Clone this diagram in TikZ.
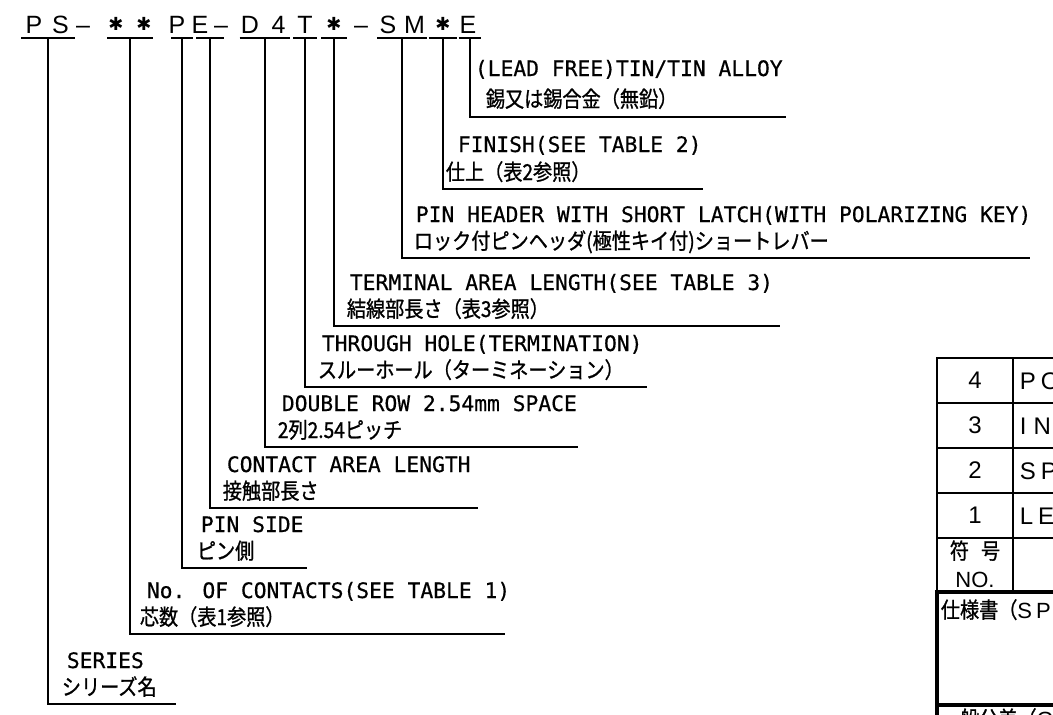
\documentclass[tikz,border=0pt]{standalone}
\usepackage{fontspec}
\newfontfamily\hdrfont{Liberation Sans}
\newfontfamily\lblfont[FakeBold=0.5]{DejaVu Sans Mono}
\newfontfamily\jpfont[FakeStretch=0.87, FakeBold=1]{Noto Sans CJK JP}
\newfontfamily\starfont{DejaVu Sans}

\begin{document}
\begin{tikzpicture}[x=1pt, y=-1pt, line width=1.8pt,
  code/.style = {font=\fontsize{25}{25}\selectfont\hdrfont, anchor=base, inner sep=0pt},
  star/.style = {code, font=\fontsize{18}{18}\selectfont\starfont},
  eng/.style = {font=\fontsize{21.3}{25}\selectfont\lblfont, anchor=base west, inner sep=0pt},
  jap/.style = {font=\fontsize{22}{25}\selectfont\jpfont, anchor=base west, inner sep=0pt},
  cell/.style = {font=\fontsize{24}{24}\selectfont\hdrfont, inner sep=0pt},
  tbl/.style = {line width=1.8pt},
  tblbold/.style = {line width=3.2pt}]
  \useasboundingbox (0,0) rectangle (1053,715);
  \clip (0,0) rectangle (1053,715);

  % part number
  \node[code, minimum width=52pt] (ps) at (48,33) {\makebox[0pt]{P\hspace{3pt}}\hspace{25pt}\makebox[0pt]{S}};
  \node[code] (dash1) at (83,33) {–};
  \node[star, minimum width=44pt] (nc) at (130,33) {\raisebox{3pt}{\makebox[0pt]{✱}\hspace{28pt}\makebox[0pt]{✱}}};
  \node[code, minimum width=20pt] (pin) at (182,33) {\makebox[0pt]{P\hspace{10pt}}};
  \node[code, minimum width=26pt] (cal) at (210,33) {\makebox[0pt]{E\hspace{20pt}}};
  \node[code] (dash2) at (221,33) {–};
  \node[code, minimum width=49pt] (dr) at (265,33) {\makebox[0pt]{D\hspace{3pt}}\hspace{27pt}\makebox[0pt]{4}};
  \node[code, minimum width=22pt] (th) at (305,33) {T};
  \node[star, minimum width=24pt] (tal) at (334,33) {\raisebox{3pt}{✱}};
  \node[code] (dash3) at (361,33) {–};
  \node[code, minimum width=48pt] (lat) at (402,33) {\makebox[0pt]{S\hspace{3pt}}\hspace{25pt}\makebox[0pt]{M}};
  \node[star, minimum width=27pt] (fin) at (443,33) {\raisebox{3pt}{✱}};
  \node[code, minimum width=21pt] (lf) at (470,33) {\makebox[0pt]{E\hspace{4pt}}};

  % explanations
  \node[eng] (lf-en) at (474,76) {(LEAD FREE)TIN/TIN ALLOY};
  \node[jap] (lf-jp) at (485,107) {錫又は錫合金（無鉛）};
  \coordinate (lf-end) at (786,117);
  \node[eng] (fin-en) at (457,152) {FINISH(SEE TABLE 2)};
  \node[jap] (fin-jp) at (445,180) {仕上（表2参照）};
  \coordinate (fin-end) at (703,189);
  \node[eng] (lat-en) at (415,222) {PIN HEADER WITH SHORT LATCH(WITH POLARIZING KEY)};
  \node[jap] (lat-jp) at (413,249) {ロック付ピンヘッダ(極性キイ付)ショートレバー};
  \coordinate (lat-end) at (1030,258);
  \node[eng] (tal-en) at (349,290) {TERMINAL AREA LENGTH(SEE TABLE 3)};
  \node[jap] (tal-jp) at (346,317) {結線部長さ（表3参照）};
  \coordinate (tal-end) at (780,326);
  \node[eng] (th-en) at (321,351) {THROUGH HOLE(TERMINATION)};
  \node[jap] (th-jp) at (317,378) {スルーホール（ターミネーション）};
  \coordinate (th-end) at (647,387);
  \node[eng] (dr-en) at (281,411) {DOUBLE ROW 2.54mm SPACE};
  \node[jap] (dr-jp) at (277,438) {2列2.54ピッチ};
  \coordinate (dr-end) at (578,447);
  \node[eng] (cal-en) at (226,472) {CONTACT AREA LENGTH};
  \node[jap] (cal-jp) at (222,499) {接触部長さ};
  \coordinate (cal-end) at (478,508);
  \node[eng] (pin-en) at (200,532) {PIN SIDE};
  \node[jap] (pin-jp) at (196,559) {ピン側};
  \coordinate (pin-end) at (307,568);
  \node[eng] (nc-en) at (146,598) {No. OF CONTACTS(SEE TABLE 1)};
  \node[jap] (nc-jp) at (139,625) {芯数（表1参照）};
  \coordinate (nc-end) at (505,634);
  \node[eng] (ps-en) at (66,668) {SERIES};
  \node[jap] (ps-jp) at (61,695) {シリーズ名};
  \coordinate (ps-end) at (176,704);

  % leaders
  \draw ([yshift=-5pt]ps.base west) -- ([yshift=-5pt]ps.base east) ([yshift=-5pt]ps.base) |- (ps-end);
  \draw ([yshift=-5pt]nc.base west) -- ([yshift=-5pt]nc.base east) ([yshift=-5pt]nc.base) |- (nc-end);
  \draw ([yshift=-5pt]pin.base west) -- ([yshift=-5pt]pin.base east) ([yshift=-5pt]pin.base) |- (pin-end);
  \draw ([yshift=-5pt]cal.base west) -- ([yshift=-5pt]cal.base east) ([yshift=-5pt]cal.base) |- (cal-end);
  \draw ([yshift=-5pt]dr.base west) -- ([yshift=-5pt]dr.base east) ([yshift=-5pt]dr.base) |- (dr-end);
  \draw ([yshift=-5pt]th.base west) -- ([yshift=-5pt]th.base east) ([yshift=-5pt]th.base) |- (th-end);
  \draw ([yshift=-5pt]tal.base west) -- ([yshift=-5pt]tal.base east) ([yshift=-5pt]tal.base) |- (tal-end);
  \draw ([yshift=-5pt]lat.base west) -- ([yshift=-5pt]lat.base east) ([yshift=-5pt]lat.base) |- (lat-end);
  \draw ([yshift=-5pt]fin.base west) -- ([yshift=-5pt]fin.base east) ([yshift=-5pt]fin.base) |- (fin-end);
  \draw ([yshift=-5pt]lf.base west) -- ([yshift=-5pt]lf.base east) ([yshift=-5pt]lf.base) |- (lf-end);

  % table (cut at the edge)
  \draw[tbl] (1060,358) -- (937,358) -- (937,592);
  \draw[tbl] (937,403) -- (1060,403) (937,448) -- (1060,448)
    (937,493) -- (1060,493) (937,538) -- (1060,538);
  \draw[tbl] (1013,358) -- (1013,592);
  \draw[tblbold] (1060,592) -- (937,592) -- (937,720) (937,705) -- (1060,705);
  \node[cell] (no4) at (975,380) {4};
  \node[cell] (no3) at (975,425) {3};
  \node[cell] (no2) at (975,470) {2};
  \node[cell] (no1) at (975,515) {1};
  \node[cell, anchor=base west] (it4) at (1019,389) {P\hspace{5pt}O};
  \node[cell, anchor=base west] (it3) at (1019,434) {I\hspace{7pt}N};
  \node[cell, anchor=base west] (it2) at (1019,479) {S\hspace{5pt}P};
  \node[cell, anchor=base west] (it1) at (1019,524) {L\hspace{5pt}E};
  \node[jap, anchor=base] (sym) at (975,559) {符\hspace{12pt}号};
  \node[cell, anchor=base, font=\fontsize{22}{22}\selectfont\hdrfont] (nolbl) at (975,587) {NO.};
  \node[jap] (spec) at (940,618) {仕様書（{\hdrfont S\hspace{4pt}P}};
  \node[jap] (tol) at (940,727) {一般公差（{\hdrfont G\hspace{4pt}E\hspace{4pt}N\hspace{4pt}E}};
\end{tikzpicture}
\end{document}
